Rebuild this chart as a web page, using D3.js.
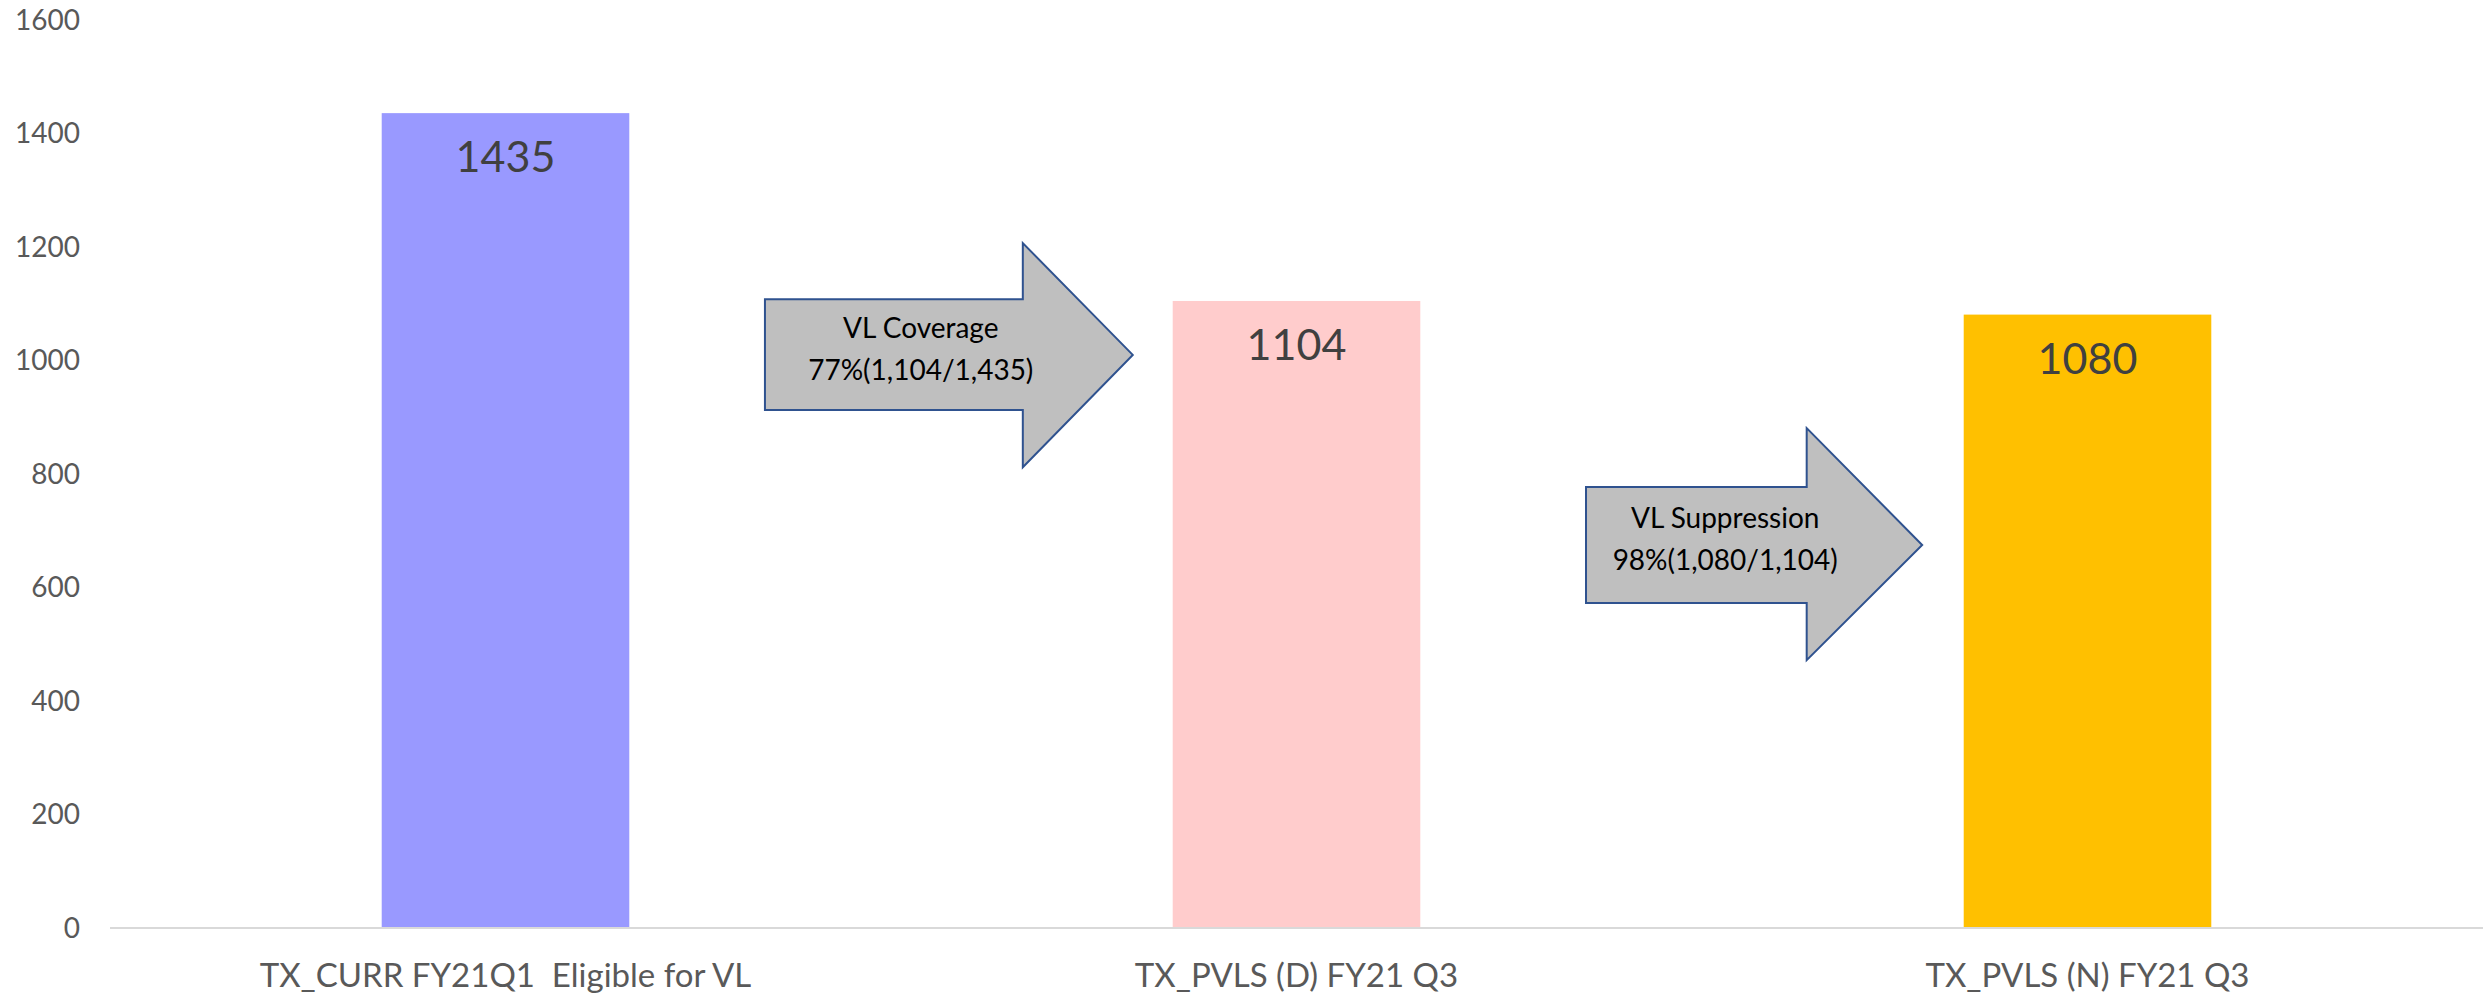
<!DOCTYPE html>
<html>
<head>
<meta charset="utf-8">
<script src="https://cdn.jsdelivr.net/npm/d3@7"></script>
<style>
  html, body { margin: 0; padding: 0; background: #fff; }
  svg { display: block; }
</style>
</head>
<body>
<div id="chart"></div>
<script>
// ── Data ─────────────────────────────────────────────
const categories = ['TX_CURR FY21Q1  Eligible for VL', 'TX_PVLS (D) FY21 Q3', 'TX_PVLS (N) FY21 Q3'];
const values = [1435, 1104, 1080];
const barColors = ['#9999ff', '#ffcccc', '#ffc000'];
const yTicks = [0, 200, 400, 600, 800, 1000, 1200, 1400, 1600];

// arrow annotations, in category units (x) and value units (y)
const arrowLines = [
    ['VL Coverage', '77%(1,104/1,435)'],
    ['VL Suppression', '98%(1,080/1,104)']
];
const arrowShape = [
    { left: 0.328, neck: 0.654, tip: 0.793, text: 0.525, bodyTop: 1107, bodyBottom: 912, headTop: 1206, headBottom: 811, mid: 1009 },
    { left: 1.366, neck: 1.645, tip: 1.791, text: 1.542, bodyTop: 776, bodyBottom: 572, headTop: 880, headBottom: 471, mid: 674 }
];

const W = 2489, H = 997;
const margin = { left: 110, right: 6, top: 19.5, bottom: 69.5 };

const svg = d3.select('#chart').append('svg')
    .attr('width', W)
    .attr('height', H);

const x = d3.scaleBand()
    .domain(categories)
    .range([margin.left, W - margin.right])
    .paddingInner(0.687)
    .paddingOuter(0.3435);

const y = d3.scaleLinear()
    .domain([0, 1600])
    .range([H - margin.bottom, margin.top]);

const step = x.step();
const xu = u => margin.left + (u + 0.5) * step;

// y labels
const font = 'Lato, "Open Sans", sans-serif';
svg.append('g')
    .selectAll('text')
    .data(yTicks)
    .enter()
    .append('text')
    .attr('x', 80)
    .attr('y', d => y(d))
    .attr('dy', '0.36em')
    .attr('text-anchor', 'end')
    .style('font-family', font)
    .style('font-size', '28px')
    .style('fill', '#595959')
    .text(d => d);

// bars
svg.append('g')
    .selectAll('rect')
    .data(values)
    .enter()
    .append('rect')
    .attr('x', (d, i) => x(categories[i]))
    .attr('y', d => y(d))
    .attr('width', x.bandwidth())
    .attr('height', d => y(0) - y(d))
    .attr('fill', (d, i) => barColors[i]);

// baseline
svg.append('line')
    .attr('x1', margin.left)
    .attr('x2', W - margin.right)
    .attr('y1', y(0) + 0.5)
    .attr('y2', y(0) + 0.5)
    .attr('stroke', '#d9d9d9')
    .attr('stroke-width', 2);

// value labels inside bar tops
svg.append('g')
    .selectAll('text')
    .data(values)
    .enter()
    .append('text')
    .attr('x', (d, i) => x(categories[i]) + x.bandwidth() / 2)
    .attr('y', d => y(d) + 59)
    .attr('text-anchor', 'middle')
    .style('font-family', font)
    .style('font-size', '43px')
    .style('fill', '#404040')
    .text(d => d);

// category labels
svg.append('g')
    .selectAll('text')
    .data(categories)
    .enter()
    .append('text')
    .attr('x', d => x(d) + x.bandwidth() / 2)
    .attr('y', 987)
    .attr('text-anchor', 'middle')
    .style('font-family', font)
    .style('font-size', '33px')
    .style('fill', '#595959')
    .style('white-space', 'pre')
    .text(d => d);

// arrows
const arrows = svg.append('g')
    .selectAll('g')
    .data(arrowShape)
    .enter()
    .append('g');

arrows.append('path')
    .attr('d', a => {
        const pts = [
            [xu(a.left), y(a.bodyTop)],
            [xu(a.neck), y(a.bodyTop)],
            [xu(a.neck), y(a.headTop)],
            [xu(a.tip), y(a.mid)],
            [xu(a.neck), y(a.headBottom)],
            [xu(a.neck), y(a.bodyBottom)],
            [xu(a.left), y(a.bodyBottom)]
        ];
        return d3.line()(pts) + 'Z';
    })
    .attr('fill', '#bfbfbf')
    .attr('stroke', '#2f528f')
    .attr('stroke-width', 2)
    .attr('stroke-linejoin', 'miter');

arrows.each(function (a, i) {
    const g = d3.select(this);
    const lines = arrowLines[i];
    g.selectAll('text')
        .data(lines)
        .enter()
        .append('text')
        .attr('x', xu(a.text))
        .attr('y', (d, j) => y(a.mid) - 17 + j * 42)
        .attr('text-anchor', 'middle')
        .style('font-family', font)
        .style('font-size', '28px')
        .style('fill', '#000')
        .text(d => d);
});
</script>
</body>
</html>
